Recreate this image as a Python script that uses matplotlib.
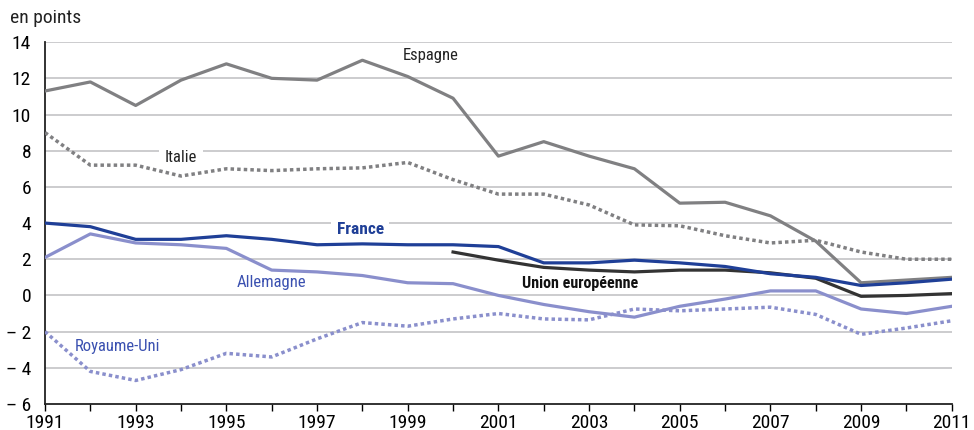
import matplotlib
matplotlib.use("Agg")
import matplotlib.pyplot as plt
from matplotlib import font_manager

years = list(range(1991, 2012))
espagne = [11.3, 11.8, 10.5, 11.9, 12.8, 12.0, 11.9, 13.0, 12.1, 10.9, 7.7, 8.5, 7.7, 7.0, 5.1, 5.15, 4.4, 3.0, 0.7, 0.85, 1.0]
italie = [9.0, 7.2, 7.2, 6.6, 7.0, 6.9, 7.0, 7.05, 7.35, 6.4, 5.6, 5.6, 5.0, 3.9, 3.85, 3.3, 2.9, 3.05, 2.4, 2.0, 2.0]
france = [4.0, 3.8, 3.1, 3.1, 3.3, 3.1, 2.8, 2.85, 2.8, 2.8, 2.7, 1.8, 1.8, 1.95, 1.8, 1.6, 1.2, 1.0, 0.55, 0.7, 0.9]
allemagne = [2.1, 3.4, 2.9, 2.8, 2.6, 1.4, 1.3, 1.1, 0.7, 0.65, 0.0, -0.5, -0.9, -1.2, -0.6, -0.2, 0.25, 0.25, -0.75, -1.0, -0.6]
royaume_uni = [-2.0, -4.2, -4.7, -4.1, -3.2, -3.4, -2.4, -1.5, -1.7, -1.3, -1.0, -1.3, -1.35, -0.75, -0.85, -0.75, -0.65, -1.05, -2.15, -1.8, -1.4]
ue_years = list(range(2000, 2012))
ue = [2.4, 1.95, 1.55, 1.4, 1.3, 1.4, 1.4, 1.25, 0.95, -0.05, 0.0, 0.1]

yticks = [-6, -4, -2, 0, 2, 4, 6, 8, 10, 12, 14]
ytick_labels = ["– 6", "– 4", "– 2", "0", "2", "4", "6", "8", "10", "12", "14"]
xtick_labels_years = list(range(1991, 2012, 2))

names = set(f.name for f in font_manager.fontManager.ttflist)
main = "DejaVu Sans"
for cand in ["Roboto Condensed", "Archivo Narrow", "Liberation Sans Narrow", "Asap Condensed", "Barlow Semi Condensed"]:
    if cand in names:
        main = cand
        break
plt.rcParams['font.family'] = [main, "DejaVu Sans"]

fig = plt.figure(figsize=(9.74, 4.3), dpi=100)
ax = fig.add_axes([0.0462, 0.0605, 0.931, 0.8415])

c_gray = "#808082"
c_blue = "#1f3f97"
c_light = "#8a8fcc"
c_dark = "#333333"
lw = 2.3
dots = (0, (1.0, 0.9))

ax.plot(years, espagne, color=c_gray, lw=lw, zorder=3)
ax.plot(years, italie, color=c_gray, lw=lw + 0.2, linestyle=dots, zorder=3)
ax.plot(years, royaume_uni, color=c_light, lw=lw + 0.2, linestyle=dots, zorder=3)
ax.plot(years, allemagne, color=c_light, lw=lw, zorder=3)
ax.plot(years, france, color=c_blue, lw=lw, zorder=4)
ax.plot(ue_years, ue, color=c_dark, lw=lw, zorder=3)

ax.set_xlim(1991, 2011)
ax.set_ylim(-6, 14)
ax.set_yticks(yticks)
ax.set_yticklabels(ytick_labels)
ax.set_xticks(years, minor=True)
ax.set_xticks(xtick_labels_years)
ax.set_xticklabels([str(y) for y in xtick_labels_years])

for y in yticks[1:]:
    ax.axhline(y, color="#c4c4c6", lw=1.2, zorder=1)

for s in ["top", "right"]:
    ax.spines[s].set_visible(False)
ax.spines["left"].set_linewidth(1.3)
ax.spines["bottom"].set_linewidth(1.3)
ax.spines["left"].set_color("#222222")
ax.spines["bottom"].set_color("#222222")
ax.tick_params(axis="y", length=0, labelsize=14, pad=10)
ax.tick_params(axis="x", which="both", direction="out", length=5, width=1, labelsize=14, pad=2)

ax.text(1999.5, 13.25, "Espagne", fontsize=12, color="#222222", ha="center", va="center", zorder=5)
ax.text(1994.0, 7.65, "Italie", fontsize=12, color="#222222", ha="center", va="center", zorder=2,
        bbox=dict(facecolor="white", edgecolor="none", pad=4))
ax.text(1997.95, 3.62, "France", fontsize=12.5, color=c_blue, fontweight="bold", ha="center", va="center", zorder=2,
        bbox=dict(facecolor="white", edgecolor="none", pad=4))
ax.text(1996.0, 0.72, "Allemagne", fontsize=12, color="#3a50b0", ha="center", va="center", zorder=5)
ax.text(1992.6, -2.85, "Royaume-Uni", fontsize=12, color="#3a50b0", ha="center", va="center", zorder=5)
ax.text(2002.8, 0.65, "Union européenne", fontsize=11.5, color="#111111", fontweight="bold", ha="center", va="center", zorder=5)

fig.text(10 / 974, 1 - 18 / 430, "en points", fontsize=14, ha="left", va="center", color="#222222")

fig.savefig("out.png", dpi=100)
